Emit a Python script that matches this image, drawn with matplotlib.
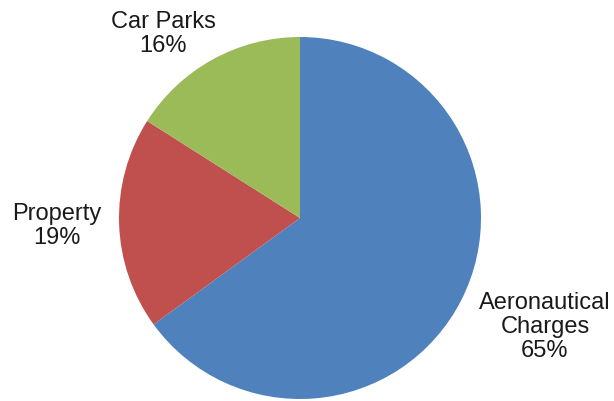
import matplotlib
matplotlib.use("Agg")
import matplotlib.pyplot as plt

categories = ["Aeronautical\nCharges", "Property", "Car Parks"]
values = [65, 19, 16]
colors = ["#4F81BD", "#C0504D", "#9BBB59"]

fig = plt.figure(figsize=(6.14, 4.01), dpi=100)
ax = fig.add_axes([0, 0, 1, 1])

ax.pie(values, colors=colors, startangle=90, counterclock=False,
       center=(300, 183), radius=181, frame=True)
ax.set_xlim(0, 614)
ax.set_ylim(0, 401)
ax.set_aspect("equal")
ax.axis("off")

label_pos = [(545, 74), (57, 175), (163, 367)]
for cat, v, (x, y) in zip(categories, values, label_pos):
    ax.text(x, y, f"{cat}\n{v}%", ha="center", va="center",
            fontsize=17, family="Liberation Sans", color="#1a1a1a",
            linespacing=1.1)

fig.savefig("out.png", dpi=100)
